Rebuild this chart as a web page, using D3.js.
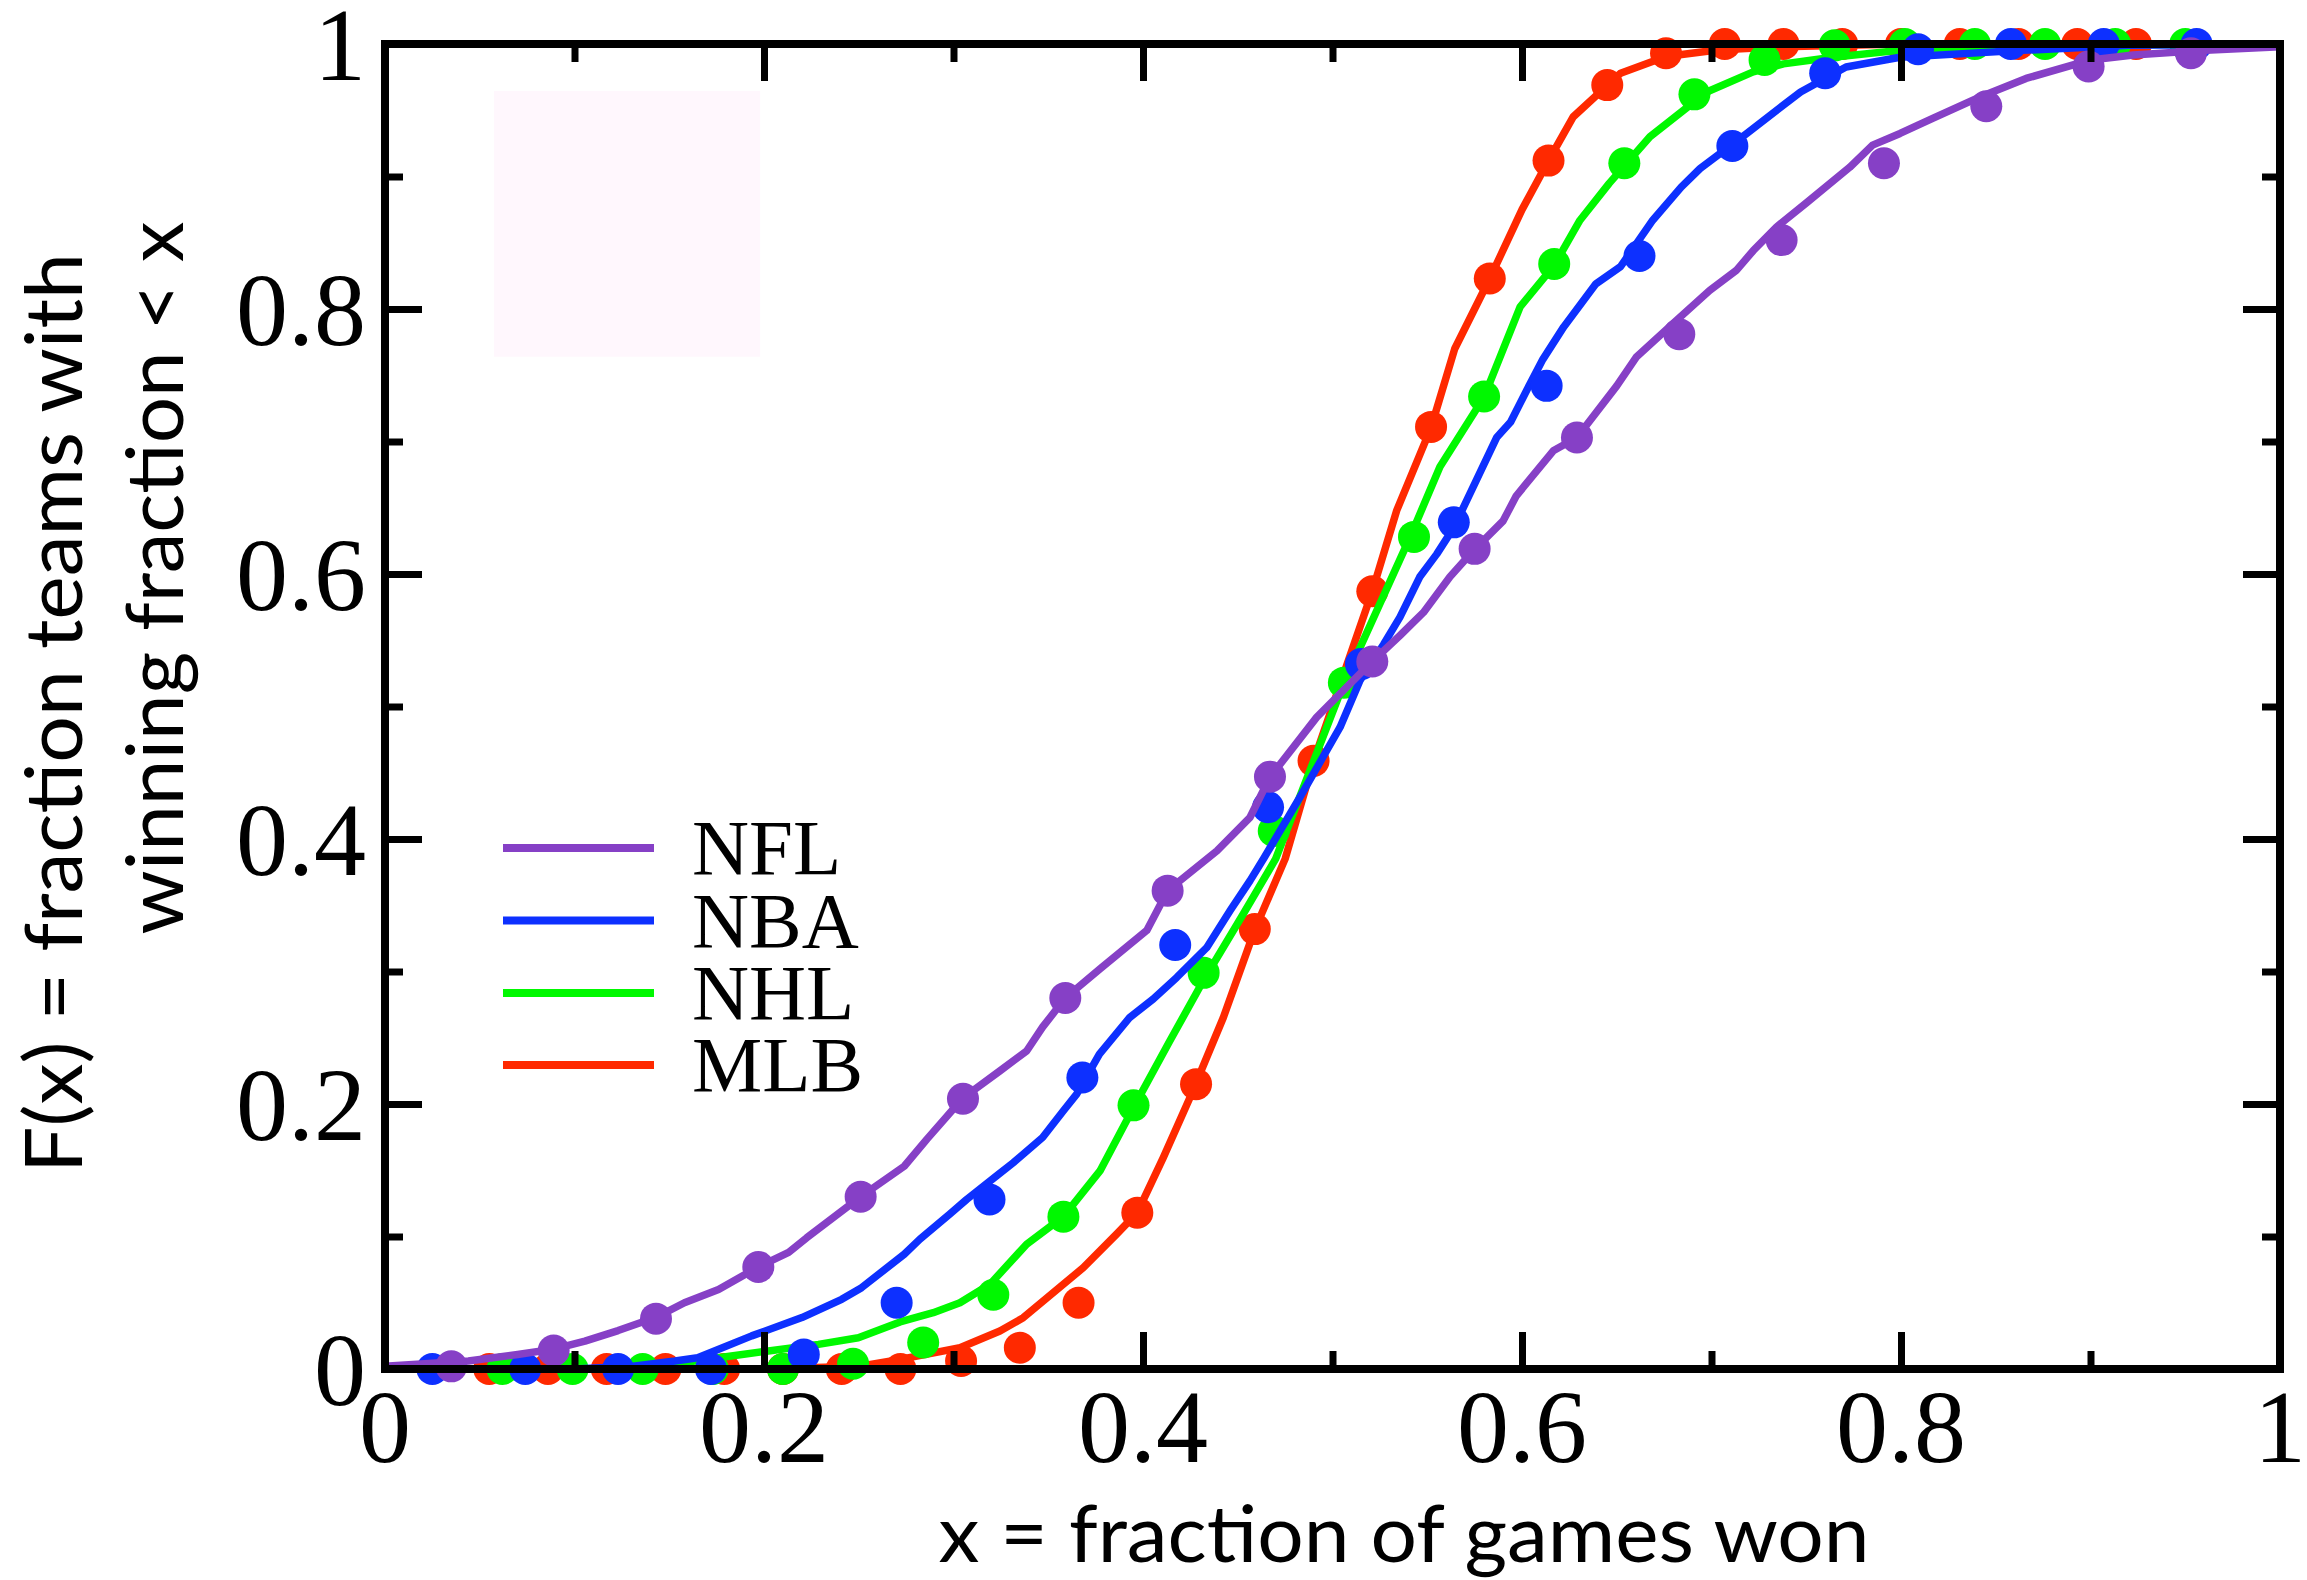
<!DOCTYPE html>
<html>
<head>
<meta charset="utf-8">
<script src="https://cdn.jsdelivr.net/npm/d3@7"></script>
<style>
  html, body { margin: 0; padding: 0; background: #fff; }
  svg { display: block; }
</style>
</head>
<body>
<script>
// Cumulative distribution of winning fraction for four leagues:
// dots = observed data, lines = model curves.

const leagues = ["NFL", "NBA", "NHL", "MLB"];
const leagueColors = ["#8640c6", "#0d30ff", "#00f800", "#ff2900"];

// Observed points: winning fraction x and cumulative fraction F(x)
const nflX = [0.035, 0.089, 0.143, 0.197, 0.251, 0.305, 0.359, 0.413, 0.467, 0.521, 0.575, 0.629, 0.683, 0.737, 0.791, 0.845, 0.899, 0.953];
const nflF = [0.002, 0.014, 0.038, 0.077, 0.130, 0.204, 0.280, 0.361, 0.447, 0.534, 0.619, 0.703, 0.781, 0.852, 0.910, 0.953, 0.983, 0.993];

const nbaX = [0.025, 0.074, 0.123, 0.172, 0.221, 0.270, 0.319, 0.368, 0.417, 0.466, 0.515, 0.564, 0.613, 0.662, 0.711, 0.760, 0.809, 0.858, 0.907, 0.956];
const nbaF = [0.000, 0.000, 0.000, 0.000, 0.011, 0.050, 0.128, 0.220, 0.320, 0.424, 0.532, 0.639, 0.742, 0.840, 0.923, 0.978, 0.996, 1.000, 1.000, 1.000];

const nhlX = [0.062, 0.099, 0.136, 0.173, 0.210, 0.247, 0.284, 0.321, 0.358, 0.395, 0.432, 0.469, 0.506, 0.543, 0.580, 0.617, 0.654, 0.691, 0.728, 0.765, 0.802, 0.839, 0.876, 0.913, 0.950];
const nhlF = [0.000, 0.000, 0.000, 0.000, 0.000, 0.004, 0.020, 0.056, 0.115, 0.199, 0.299, 0.406, 0.518, 0.628, 0.734, 0.834, 0.910, 0.962, 0.988, 0.999, 1.000, 1.000, 1.000, 1.000, 1.000];

const mlbX = [0.055, 0.086, 0.117, 0.148, 0.179, 0.210, 0.241, 0.272, 0.304, 0.335, 0.366, 0.397, 0.428, 0.459, 0.490, 0.521, 0.552, 0.583, 0.614, 0.645, 0.676, 0.707, 0.738, 0.769, 0.800, 0.831, 0.862, 0.893, 0.924];
const mlbF = [0.000, 0.000, 0.000, 0.000, 0.000, 0.000, 0.000, 0.000, 0.006, 0.016, 0.050, 0.118, 0.215, 0.332, 0.459, 0.587, 0.711, 0.823, 0.912, 0.969, 0.993, 1.000, 1.000, 1.000, 1.000, 1.000, 1.000, 1.000, 1.000];

// Model curves, [x, F(x)]
const nflCurve = [[0, 0.002], [0.044, 0.006], [0.070, 0.011], [0.089, 0.015], [0.1055, 0.021], [0.123, 0.029], [0.143, 0.039], [0.158, 0.050], [0.176, 0.060], [0.197, 0.077], [0.213, 0.088], [0.2225, 0.099], [0.251, 0.130], [0.274, 0.153], [0.286, 0.1735], [0.305, 0.2045], [0.3245, 0.225], [0.3386, 0.240], [0.347, 0.258], [0.359, 0.280], [0.3773, 0.302], [0.402, 0.331], [0.413, 0.361], [0.439, 0.391], [0.4565, 0.4164], [0.467, 0.4466], [0.4917, 0.492], [0.521, 0.534], [0.5356, 0.5536], [0.548, 0.571], [0.562, 0.598], [0.575, 0.6186], [0.590, 0.640], [0.597, 0.659], [0.6165, 0.693], [0.629, 0.703], [0.650, 0.742], [0.6605, 0.764], [0.6816, 0.7915], [0.699, 0.814], [0.713, 0.829], [0.722, 0.844], [0.7344, 0.862], [0.750, 0.880], [0.773, 0.907], [0.785, 0.9237], [0.7995, 0.9325], [0.817, 0.944], [0.840, 0.959], [0.866, 0.974], [0.900, 0.988], [0.9226, 0.9917], [0.958, 0.995], [1.0, 0.998]];

const nbaCurve = [[0, 0], [0.10, 0.0], [0.13, 0.002], [0.153, 0.006], [0.165, 0.0085], [0.1935, 0.025], [0.220, 0.0388], [0.241, 0.0526], [0.2515, 0.0614], [0.274, 0.0866], [0.2823, 0.098], [0.298, 0.1168], [0.307, 0.128], [0.3228, 0.1458], [0.3316, 0.1558], [0.347, 0.1747], [0.358, 0.1949], [0.365, 0.2075], [0.377, 0.2377], [0.393, 0.2653], [0.4054, 0.2792], [0.4178, 0.2955], [0.4336, 0.318], [0.446, 0.346], [0.4565, 0.3686], [0.464, 0.386], [0.4828, 0.4315], [0.504, 0.4844], [0.5145, 0.5196], [0.527, 0.547], [0.5356, 0.5675], [0.546, 0.5977], [0.555, 0.615], [0.564, 0.635], [0.576, 0.671], [0.5866, 0.703], [0.594, 0.7147], [0.6025, 0.7387], [0.611, 0.762], [0.622, 0.7865], [0.639, 0.819], [0.652, 0.832], [0.669, 0.867], [0.684, 0.892], [0.694, 0.906], [0.7186, 0.9325], [0.738, 0.954], [0.747, 0.9638], [0.771, 0.9826], [0.7995, 0.990], [0.861, 0.995], [0.920, 0.999], [1.0, 1.0]];

const nhlCurve = [[0, 0], [0.12, 0.0], [0.153, 0.004], [0.176, 0.0085], [0.2023, 0.0136], [0.2287, 0.0186], [0.2498, 0.0236], [0.2718, 0.0355], [0.2893, 0.0425], [0.3034, 0.050], [0.3193, 0.064], [0.3386, 0.0942], [0.358, 0.115], [0.3773, 0.1495], [0.395, 0.1974], [0.4142, 0.2477], [0.4318, 0.293], [0.4529, 0.3434], [0.470, 0.385], [0.506, 0.5176], [0.541, 0.628], [0.5567, 0.681], [0.580, 0.7336], [0.599, 0.8016], [0.617, 0.833], [0.6306, 0.867], [0.646, 0.8948], [0.6675, 0.930], [0.6975, 0.9638], [0.722, 0.979], [0.738, 0.985], [0.764, 0.990], [0.7977, 0.995], [0.850, 0.999], [1.0, 1.0]];

const mlbCurve = [[0, 0], [0.20, 0.0], [0.25, 0.002], [0.2718, 0.0073], [0.3034, 0.016], [0.3245, 0.0287], [0.3368, 0.0387], [0.3685, 0.0765], [0.386, 0.1017], [0.397, 0.118], [0.4107, 0.1596], [0.4248, 0.2049], [0.4424, 0.2653], [0.459, 0.3316], [0.475, 0.385], [0.490, 0.4587], [0.521, 0.587], [0.5339, 0.648], [0.552, 0.7105], [0.5645, 0.770], [0.583, 0.823], [0.600, 0.875], [0.614, 0.912], [0.627, 0.945], [0.652, 0.978], [0.676, 0.9905], [0.703, 0.9955], [0.738, 0.998], [0.800, 1.0], [1.0, 1.0]];

const xTicks = [0, 0.2, 0.4, 0.6, 0.8, 1];
const yTicks = [0, 0.2, 0.4, 0.6, 0.8, 1];
const minorTicks = [0.1, 0.3, 0.5, 0.7, 0.9];

const xTitle = "x = fraction of games won";
const yTitleLines = ["F(x) = fraction teams with", "winning fraction < x"];

const W = 2307, H = 1580;
const x = d3.scaleLinear().domain([0, 1]).range([385, 2280]);
const y = d3.scaleLinear().domain([0, 1]).range([1369, 44]);

const svg = d3.select("body").append("svg")
  .attr("width", W).attr("height", H)
  .attr("viewBox", `0 0 ${W} ${H}`);

svg.append("rect").attr("width", W).attr("height", H).attr("fill", "#fff");

// faint tinted panel in the upper-left corner of the plot
svg.append("rect")
  .attr("x", x(0.0575)).attr("y", y(0.9645))
  .attr("width", x(0.198) - x(0.0575))
  .attr("height", y(0.764) - y(0.9645))
  .attr("fill", "#fff7fd");

// series, drawn bottom to top so the NFL sits over the rest
const series = [
  { name: "MLB", color: leagueColors[3], xs: mlbX, fs: mlbF, curve: mlbCurve },
  { name: "NHL", color: leagueColors[2], xs: nhlX, fs: nhlF, curve: nhlCurve },
  { name: "NBA", color: leagueColors[1], xs: nbaX, fs: nbaF, curve: nbaCurve },
  { name: "NFL", color: leagueColors[0], xs: nflX, fs: nflF, curve: nflCurve }
];

const line = d3.line().x(d => x(d[0])).y(d => y(d[1])).curve(d3.curveLinear);

series.forEach(s => {
  const g = svg.append("g").attr("class", "series " + s.name);
  g.append("path")
    .datum(s.curve)
    .attr("d", line)
    .attr("fill", "none")
    .attr("stroke", s.color)
    .attr("stroke-width", 7.5)
    .attr("stroke-linejoin", "round")
    .attr("stroke-linecap", "round");
  g.selectAll("circle")
    .data(d3.zip(s.xs, s.fs))
    .join("circle")
    .attr("cx", d => x(d[0]))
    .attr("cy", d => y(d[1]))
    .attr("r", 16)
    .attr("fill", s.color);
});

// frame ticks, all pointing inward
function styleAxis(g) {
  g.select(".domain").remove();
  g.selectAll(".tick line").attr("stroke", "#000").attr("stroke-width", 7);
  g.selectAll(".tick text").remove();
}
const major = 37, minor = 18;
svg.append("g").attr("transform", `translate(0,${y(0)})`)
  .call(d3.axisBottom(x).tickValues(xTicks).tickSize(-major)).call(styleAxis);
svg.append("g").attr("transform", `translate(0,${y(0)})`)
  .call(d3.axisBottom(x).tickValues(minorTicks).tickSize(-minor)).call(styleAxis);
svg.append("g").attr("transform", `translate(0,${y(1)})`)
  .call(d3.axisTop(x).tickValues(xTicks).tickSize(-major)).call(styleAxis);
svg.append("g").attr("transform", `translate(0,${y(1)})`)
  .call(d3.axisTop(x).tickValues(minorTicks).tickSize(-minor)).call(styleAxis);
svg.append("g").attr("transform", `translate(${x(0)},0)`)
  .call(d3.axisLeft(y).tickValues(yTicks).tickSize(-major)).call(styleAxis);
svg.append("g").attr("transform", `translate(${x(0)},0)`)
  .call(d3.axisLeft(y).tickValues(minorTicks).tickSize(-minor)).call(styleAxis);
svg.append("g").attr("transform", `translate(${x(1)},0)`)
  .call(d3.axisRight(y).tickValues(yTicks).tickSize(-major)).call(styleAxis);
svg.append("g").attr("transform", `translate(${x(1)},0)`)
  .call(d3.axisRight(y).tickValues(minorTicks).tickSize(-minor)).call(styleAxis);

// plot frame
svg.append("rect")
  .attr("x", x(0)).attr("y", y(1))
  .attr("width", x(1) - x(0)).attr("height", y(0) - y(1))
  .attr("fill", "none").attr("stroke", "#000").attr("stroke-width", 8);

// tick labels
const fmt = d3.format("~g");
const serif = "'Liberation Serif', 'Times New Roman', serif";
svg.append("g").selectAll("text")
  .data(xTicks).join("text")
  .attr("x", d => x(d)).attr("y", y(0) + 93)
  .attr("text-anchor", "middle")
  .attr("font-family", serif).attr("font-size", 104)
  .attr("fill", "#000")
  .text(fmt);
svg.append("g").selectAll("text")
  .data(yTicks).join("text")
  .attr("x", x(0) - 19).attr("y", d => y(d) + 36)
  .attr("text-anchor", "end")
  .attr("font-family", serif).attr("font-size", 104)
  .attr("fill", "#000")
  .text(fmt);

// axis titles
const sans = "Lato, 'Open Sans', sans-serif";
svg.append("text")
  .attr("x", 1404).attr("y", 1562)
  .attr("text-anchor", "middle")
  .attr("font-family", sans).attr("font-size", 80)
  .attr("textLength", 931).attr("lengthAdjust", "spacingAndGlyphs")
  .attr("fill", "#000")
  .text(xTitle);

const yTitleBase = [82, 183];
const yTitleCenter = [713, 578];
const yTitleLen = [920, 713];
yTitleLines.forEach((t, i) => {
  svg.append("text")
    .attr("transform", `translate(${yTitleBase[i]},${yTitleCenter[i]}) rotate(-90)`)
    .attr("text-anchor", "middle")
    .attr("font-family", sans).attr("font-size", 80)
    .attr("textLength", yTitleLen[i]).attr("lengthAdjust", "spacingAndGlyphs")
    .attr("fill", "#000")
    .text(t);
});

// legend
const legendRowY = [848, 920.5, 993, 1065];
const legend = svg.append("g");
leagues.forEach((name, i) => {
  legend.append("line")
    .attr("x1", 503).attr("x2", 654)
    .attr("y1", legendRowY[i]).attr("y2", legendRowY[i])
    .attr("stroke", leagueColors[i]).attr("stroke-width", 8);
  legend.append("text")
    .attr("x", 692).attr("y", legendRowY[i] + 26)
    .attr("font-family", serif).attr("font-size", 79)
    .attr("fill", "#000")
    .text(name);
});
</script>
</body>
</html>
